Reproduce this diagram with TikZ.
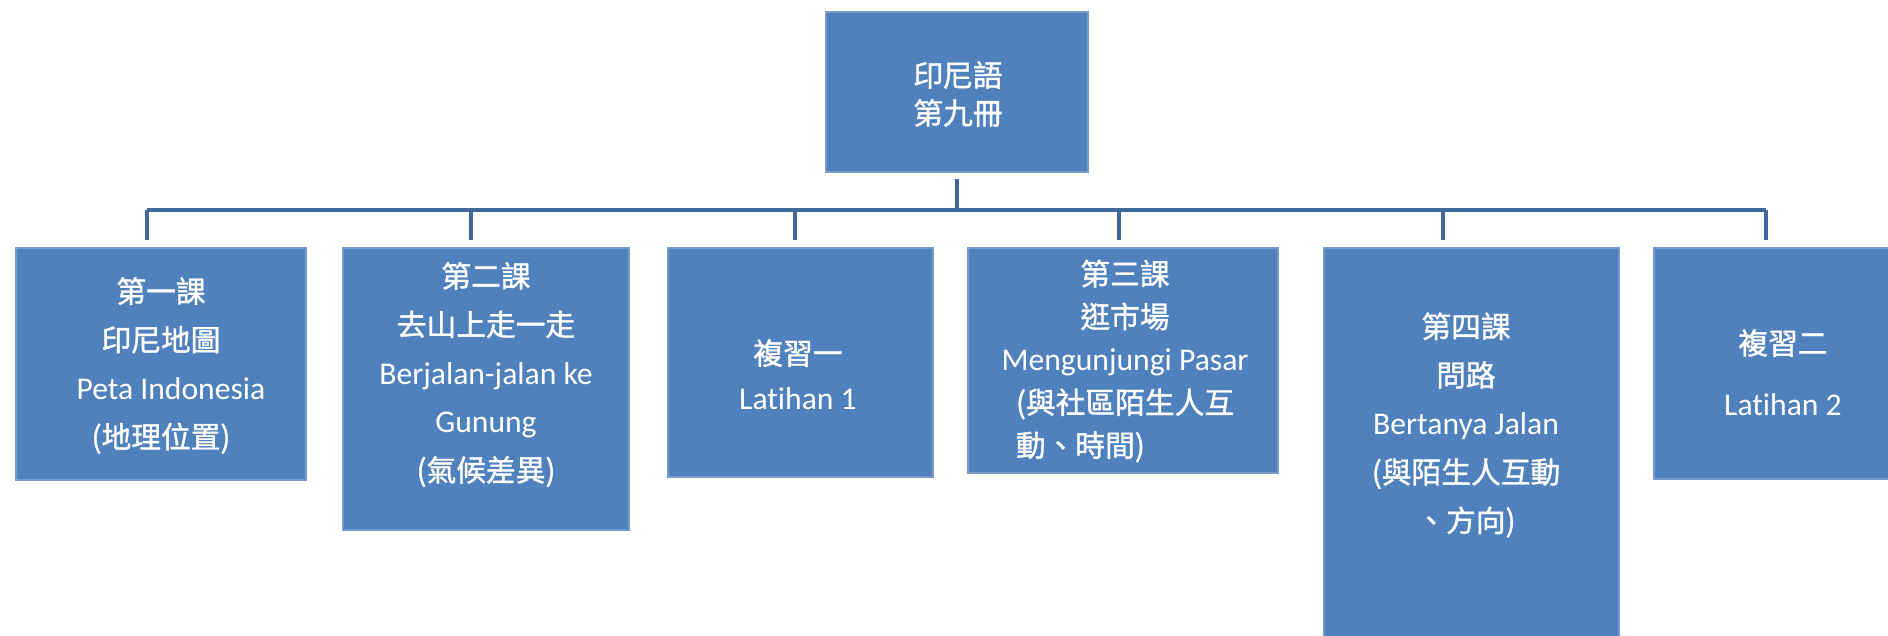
\documentclass[tikz,border=0pt]{standalone}
\usepackage{fontspec}
\setmainfont[Ligatures={NoCommon}]{Carlito}
\newfontfamily\cjk[Scale=0.94,FakeBold=1.2]{Noto Sans CJK TC}
\newcommand{\zh}[1]{{\cjk #1}}
\definecolor{boxblue}{RGB}{79,129,189}
\definecolor{boxedge}{RGB}{120,155,205}
\definecolor{linkblue}{RGB}{64,104,153}
\tikzset{
	unit/.style={rectangle,fill=boxblue,draw=boxedge,line width=0.5pt,inner sep=0pt},
	unittext/.style={text=white,align=center,inner sep=0pt,font=\fontsize{9}{13.8}\selectfont},
	link/.style={draw=linkblue,line width=1.4pt},
}
\begin{document}
\begin{tikzpicture}
	\useasboundingbox (0,0) rectangle (18.88,-6.35);
	% book
	\node[unit,minimum width=2.62cm,minimum height=1.60cm] (book) at (9.57,-0.92) {};
	\node[unittext,font=\fontsize{9}{10.8}\selectfont] (booktext) at (9.58,-0.94) {\zh{印尼語}\\\zh{第九冊}};
	% lessons
	\node[unit,minimum width=2.90cm,minimum height=2.32cm] (l1) at (1.61,-3.64) {};
	\node[unittext] (l1text) at (1.61,-3.655) {\zh{第一課}\\\zh{印尼地圖}\\\hspace{0.2cm}Peta Indonesia\\\zh{(地理位置)}};
	\node[unit,minimum width=2.86cm,minimum height=2.82cm] (l2) at (4.86,-3.89) {};
	\node[unittext] (l2text) at (4.86,-3.745) {\zh{第二課}\\\zh{去山上走一走}\\Berjalan-jalan ke\\Gunung\\\zh{(氣候差異)}};
	\node[unit,minimum width=2.65cm,minimum height=2.29cm] (r1) at (8.005,-3.625) {};
	\node[unittext,font=\fontsize{9}{12.8}\selectfont] (r1text) at (7.98,-3.745) {\zh{複習一}\\Latihan 1};
	\node[unit,minimum width=3.10cm,minimum height=2.25cm] (l3) at (11.23,-3.605) {};
	\node[unittext,font=\fontsize{9}{12.2}\selectfont] (l3text) at (11.25,-3.61) {\zh{第三課}\\\zh{逛市場}\\Mengunjungi Pasar\\\zh{(與社區陌生人互}\\\rlap{\zh{動、時間)}}\phantom{\zh{(與社區陌生人互}}};
	\node[unit,minimum width=2.95cm,minimum height=3.92cm] (l4) at (14.715,-4.44) {};
	\node[unittext] (l4text) at (14.66,-4.25) {\zh{第四課}\\\zh{問路}\\Bertanya Jalan\\\zh{(與陌生人互動}\\\zh{、方向)}};
	\node[unit,minimum width=2.58cm,minimum height=2.31cm] (r2) at (17.83,-3.635) {};
	\node[unittext,font=\fontsize{9}{17.4}\selectfont] (r2text) at (17.83,-3.725) {\zh{複習二}\\Latihan 2};
	% tree lines
	\coordinate (s1) at (1.47,-2.10);
	\coordinate (s2) at (4.71,-2.10);
	\coordinate (s3) at (7.95,-2.10);
	\coordinate (s4) at (11.19,-2.10);
	\coordinate (s5) at (14.43,-2.10);
	\coordinate (s6) at (17.66,-2.10);
	\draw[link,line width=1.3pt,shorten <=0.06cm] (book) -- (book |- s1);
	\draw[link] (s1) -- (s6);
	\foreach \s/\b in {s1/l1,s2/l2,s3/r1,s4/l3,s5/l4,s6/r2}
		\draw[link,line width=1.1pt,shorten >=0.07cm] (\s) -- (\s |- \b.north);
\end{tikzpicture}
\end{document}
